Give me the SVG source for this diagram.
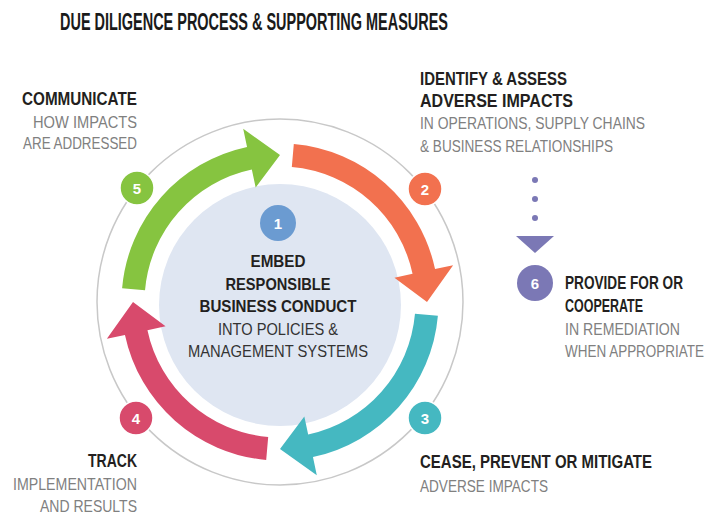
<svg xmlns="http://www.w3.org/2000/svg" xmlns:xlink="http://www.w3.org/1999/xlink" width="709" height="517" viewBox="0 0 709 517">
<style>
text{font-family:"Liberation Sans",Arial,sans-serif;}
.t{font-size:23px;font-weight:bold;fill:#1a1a1a;}
.b{font-size:17.5px;font-weight:bold;fill:#231f20;}
.g{font-size:17px;fill:#808080;}
.cb{font-size:16.5px;font-weight:bold;fill:#231f20;text-anchor:middle;}
.cr{font-size:16.5px;fill:#333333;text-anchor:middle;}
.n{font-size:15px;font-weight:bold;fill:#ffffff;text-anchor:middle;}
.num{stroke:#ffffff;stroke-width:1.5;}
</style>
<defs>
<path id="arc" d="M122.10,288.19 A158.5,158.5 0 0 1 247.05,146.96 L243.20,128.87 L280,155 L255.67,187.56 L251.83,169.46 A135.5,135.5 0 0 0 145.02,290.19 Z"/>
</defs>
<rect width="709" height="517" fill="#ffffff"/>
<text class="t" x="60" y="30" textLength="388" lengthAdjust="spacingAndGlyphs">DUE DILIGENCE PROCESS &amp; SUPPORTING MEASURES</text>

<g id="ring">
<circle cx="280" cy="302" r="183" fill="none" stroke="#c8c8c8" stroke-width="1.5"/>
</g>

<g id="node1">
<circle cx="280" cy="305" r="121" fill="#dfe6f2"/>
<circle cx="278" cy="223" r="18" fill="#6b9bd1"/>
<text class="n" x="278" y="228.5">1</text>
<text class="cb" x="278" y="267" textLength="55" lengthAdjust="spacingAndGlyphs">EMBED</text>
<text class="cb" x="278" y="290" textLength="105" lengthAdjust="spacingAndGlyphs">RESPONSIBLE</text>
<text class="cb" x="278" y="312" textLength="157" lengthAdjust="spacingAndGlyphs">BUSINESS CONDUCT</text>
<text class="cr" x="278" y="335" textLength="120" lengthAdjust="spacingAndGlyphs">INTO POLICIES &amp;</text>
<text class="cr" x="278" y="357" textLength="180" lengthAdjust="spacingAndGlyphs">MANAGEMENT SYSTEMS</text>
</g>

<g id="connectors">
<use xlink:href="#arc" fill="#86c440"/>
<use xlink:href="#arc" fill="#f2714f" transform="rotate(90 280 302)"/>
<use xlink:href="#arc" fill="#45b8c1" transform="rotate(180 280 302)"/>
<use xlink:href="#arc" fill="#d84a6c" transform="rotate(270 280 302)"/>
<circle cx="535" cy="180" r="3" fill="#7b78b5"/>
<circle cx="535" cy="199" r="3" fill="#7b78b5"/>
<circle cx="535" cy="218" r="3" fill="#7b78b5"/>
<polygon points="516,236 554,236 535,253" fill="#7b78b5"/>
</g>

<g id="node5">
<circle class="num" cx="137" cy="188" r="17" fill="#86c440"/>
<text class="n" x="137" y="193.5">5</text>
<text class="b" x="22" y="105" textLength="115" lengthAdjust="spacingAndGlyphs">COMMUNICATE</text>
<text class="g" x="33" y="128" textLength="104" lengthAdjust="spacingAndGlyphs">HOW IMPACTS</text>
<text class="g" x="23" y="149" textLength="114" lengthAdjust="spacingAndGlyphs">ARE ADDRESSED</text>
</g>

<g id="node2">
<circle class="num" cx="425" cy="189" r="17" fill="#f2714f"/>
<text class="n" x="425" y="194.5">2</text>
<text class="b" x="420" y="85" textLength="147" lengthAdjust="spacingAndGlyphs">IDENTIFY &amp; ASSESS</text>
<text class="b" x="420" y="107" textLength="153" lengthAdjust="spacingAndGlyphs">ADVERSE IMPACTS</text>
<text class="g" x="420" y="129" textLength="225" lengthAdjust="spacingAndGlyphs">IN OPERATIONS, SUPPLY CHAINS</text>
<text class="g" x="420" y="152" textLength="193" lengthAdjust="spacingAndGlyphs">&amp; BUSINESS RELATIONSHIPS</text>
</g>

<g id="node3">
<circle class="num" cx="425" cy="418" r="17" fill="#45b8c1"/>
<text class="n" x="425" y="423.5">3</text>
<text class="b" x="420" y="468" textLength="232" lengthAdjust="spacingAndGlyphs">CEASE, PREVENT OR MITIGATE</text>
<text class="g" x="420" y="492" textLength="128" lengthAdjust="spacingAndGlyphs">ADVERSE IMPACTS</text>
</g>

<g id="node4">
<circle class="num" cx="136" cy="418" r="17" fill="#d84a6c"/>
<text class="n" x="136" y="423.5">4</text>
<text class="b" x="88" y="467" textLength="49" lengthAdjust="spacingAndGlyphs">TRACK</text>
<text class="g" x="13" y="490" textLength="124" lengthAdjust="spacingAndGlyphs">IMPLEMENTATION</text>
<text class="g" x="40" y="512" textLength="97" lengthAdjust="spacingAndGlyphs">AND RESULTS</text>
</g>

<g id="node6">
<circle cx="535" cy="283" r="18" fill="#7b78b5"/>
<text class="n" x="535" y="288.5">6</text>
<text class="b" transform="translate(565 289) scale(0.8 1)" textLength="147.5" lengthAdjust="spacingAndGlyphs">PROVIDE FOR OR</text>
<text class="b" transform="translate(565 312) scale(0.8 1)" textLength="97.5" lengthAdjust="spacingAndGlyphs">COOPERATE</text>
<text class="g" transform="translate(565 335) scale(0.8 1)" textLength="143.75" lengthAdjust="spacingAndGlyphs">IN REMEDIATION</text>
<text class="g" transform="translate(565 357) scale(0.8 1)" textLength="173.75" lengthAdjust="spacingAndGlyphs">WHEN APPROPRIATE</text>
</g>
</svg>
